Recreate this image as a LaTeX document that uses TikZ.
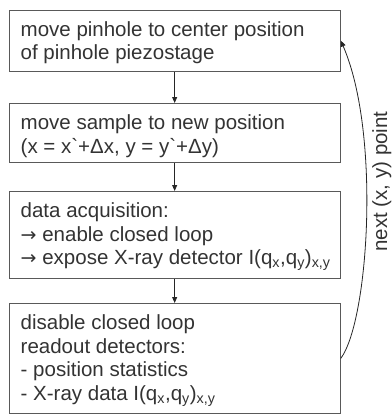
\documentclass[tikz,border=0pt]{standalone}
\usepackage{fontspec}
\setmainfont{Liberation Sans}
\newfontfamily\arrfont{DejaVu Sans}
\newcommand{\rarr}{{\arrfont\fontsize{19}{23.5}\selectfont →}}
\usetikzlibrary{arrows.meta}
\begin{document}
\begin{tikzpicture}[x=1pt,y=-1pt,
  box/.style={draw=black!65, line width=0.8pt, anchor=north west, minimum width=331.5pt, inner sep=0pt},
  txt/.style={anchor=base west, inner sep=0pt, align=left, text=black!80, font=\fontsize{20.5}{23.5}\selectfont},
  lbl/.style={inner sep=0pt, text=black!80, font=\fontsize{20.5}{23.5}\selectfont},
  flow/.style={draw=black!85, line width=0.8pt, -{Triangle[length=6pt,width=5pt]}},
]
\useasboundingbox (0,0) rectangle (391,415);
\node[box, minimum height=61.5pt] (b1) at (8.5,9.5) {};
\node[box, minimum height=59pt] (b2) at (8.5,103) {};
\node[box, minimum height=87pt] (b3) at (8.5,191) {};
\node[box, minimum height=110pt] (b4) at (8.5,303) {};
\node[txt] (t1) at (20.5,59.5) {move pinhole to center position\\of pinhole piezostage};
\node[txt] (t2) at (20.5,153) {move sample to new position\\(x = x\textasciigrave+Δx, y = y\textasciigrave+Δy)};
\node[txt] (t3) at (20.5,264.5) {data acquisition:\\\rarr{} enable closed loop\\\rarr{} expose X-ray detector I(q\textsubscript{x},q\textsubscript{y})\textsubscript{x,y}};
\node[txt] (t4) at (20.5,400) {disable closed loop\\readout detectors:\\- position statistics\\- X-ray data I(q\textsubscript{x},q\textsubscript{y})\textsubscript{x,y}};
\node[lbl, rotate=90, anchor=base] (lab) at (387,181.5) {next (x, y) point};
\draw[flow] (b1) -- (b2);
\draw[flow] (b2) -- (b3);
\draw[flow] (b3) -- (b4);
\draw[flow] (b4.east) .. controls +(28,-38) and +(40,92) .. (b1.east);
\end{tikzpicture}
\end{document}
